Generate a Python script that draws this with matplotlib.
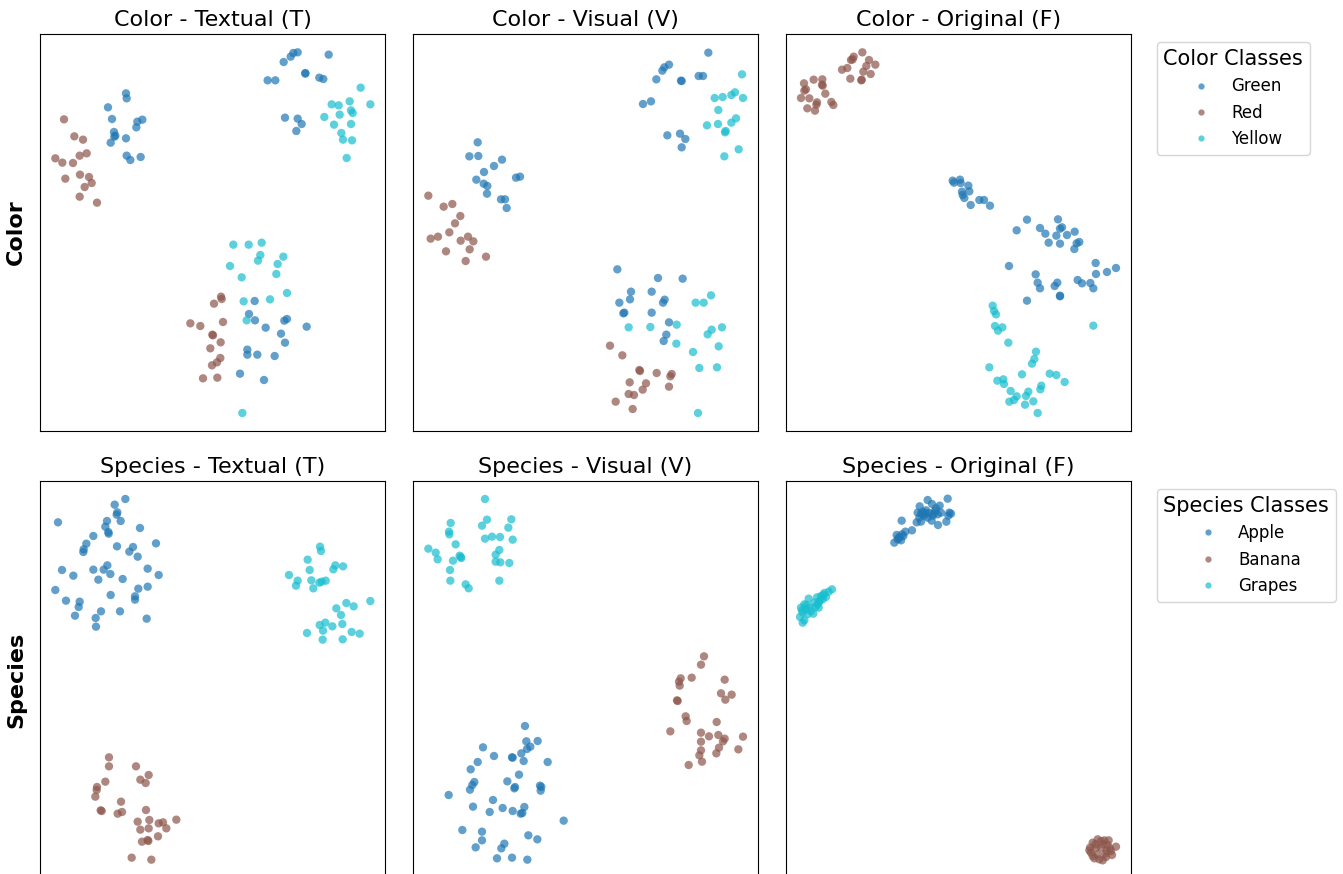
import matplotlib
matplotlib.use("Agg")
import matplotlib.pyplot as plt
from matplotlib.lines import Line2D

# ---- data: 2-D embedding coordinates ----
color_labels = ["Green", "Red", "Yellow"]
species_labels = ["Apple", "Banana", "Grapes"]
titles_color = ["Color - Textual (T)", "Color - Visual (V)", "Color - Original (F)"]
titles_species = ["Species - Textual (T)", "Species - Visual (V)", "Species - Original (F)"]

color_T_green = [(760,57),(752,68),(773,55),(731,84),(866,62),(796,117),(796,119),(838,131),(850,135),(683,139),(706,139),(735,251),(773,254),(785,270),(769,291),
                 (258,178),(260,193),(204,220),(216,255),(292,263),(307,257),(289,280),(222,294),(226,305),(223,308),(212,326),(258,313),(260,365),(271,378),(302,369),
                 (644,801),(627,840),(645,859),(677,881),(733,860),(741,855),(800,878),(723,899),(735,926),(622,947),(622,962),(652,962),(704,966),(600,1019),(672,1038)]
color_T_red = [(72,256),(103,307),(129,317),(46,373),(67,386),(99,387),(119,365),(140,358),(76,434),(120,422),(147,429),(155,447),(134,459),(119,488),(171,506),
               (543,788),(545,795),(522,809),(451,868),(481,876),(549,864),(517,902),(519,904),(542,925),(511,943),(541,972),(531,985),(516,994),(489,1033),(532,1031)]
color_T_yellow = [(962,161),(991,211),(875,211),(896,214),(929,202),(933,229),(938,237),(899,242),(853,249),(882,272),(933,270),(904,297),(909,317),(936,319),(920,372),
                  (580,632),(626,632),(665,626),(661,663),(654,680),(730,668),(713,690),(570,696),(605,730),(709,720),(741,777),(690,796),(611,802),(620,859),(607,1137)]

color_V_green = [(886,56),(768,92),(754,100),(748,110),(730,136),(804,140),(806,141),(857,126),(870,126),(690,210),(714,202),(763,304),(801,299),(817,315),(806,340),
                 (194,325),(169,367),(196,366),(267,377),(243,396),(213,414),(190,437),(212,449),(223,456),(222,479),(309,431),(321,428),(264,496),(276,496),(281,522),
                 (613,706),(735,732),(809,734),(654,773),(716,773),(651,796),(619,806),(755,797),(750,806),(631,838),(634,836),(716,836),(768,865),(760,902),(752,921)]
color_V_red = [(46,485),(92,518),(118,510),(142,546),(126,568),(109,595),(53,614),(75,608),(143,620),(165,608),(181,622),(170,646),(99,652),(158,681),(219,668),
               (591,935),(628,964),(679,1008),(681,1011),(731,1017),(776,1020),(772,1027),(650,1045),(699,1048),(689,1067),(768,1058),(647,1080),(663,1083),(608,1103),(659,1125)]
color_V_yellow = [(987,121),(905,192),(929,189),(955,183),(966,175),(990,192),(916,228),(969,253),(955,266),(915,270),(882,274),(938,291),(936,295),(977,346),(934,367),
                  (894,784),(848,806),(872,806),(647,880),(712,879),(791,872),(896,887),(884,901),(927,880),(790,929),(917,937),(840,954),(859,1002),(912,1000),(855,1137)]

color_F_green = [(500,440),(504,446),(522,437),(524,447),(547,455),(550,472),(528,473),(530,483),(535,492),(580,498),(594,498),(612,515),(554,513),
                 (723,557),(692,589),(762,582),(778,599),(816,556),(828,580),(822,584),(811,605),(843,603),(866,593),(788,626),(822,629),(872,628),(880,624),(865,645),
                 (669,696),(929,687),(930,720),(963,714),(990,702),(749,721),(755,746),(762,763),(806,756),(814,746),(875,738),(888,748),(913,747),(922,763),(822,787),(822,785),(723,800)]
color_F_red = [(229,55),(203,68),(195,78),(200,76),(249,78),(268,92),(241,96),(184,102),(168,107),(254,120),(232,113),(193,134),(227,137),(226,139),
               (83,137),(109,136),(54,148),(110,155),(60,166),(118,179),(45,192),(70,193),(93,205),(91,212),(136,204),(142,213),(64,223),(87,230),(108,152),(55,170)]
color_F_yellow = [(620,815),(624,831),(630,841),(627,876),(649,880),(636,890),(667,926),(750,953),(745,975),(738,989),(610,1000),(708,1021),(791,1019),(811,1023),(836,1044),
                  (634,1040),(652,1036),(654,1050),(674,1071),(766,1055),(763,1066),(727,1073),(720,1086),(692,1087),(684,1098),(670,1103),(717,1112),(742,1102),(755,1137),(922,875)]

species_T_apple = [(256,54),(224,71),(232,94),(230,101),(54,124),(201,120),(242,120),(196,137),(205,153),(206,158),(160,165),(300,141),(139,188),(131,205),(130,213),
                   (348,187),(231,196),(279,198),(268,212),(293,227),(202,253),(191,266),(211,279),(160,266),(66,267),(100,284),(175,296),(248,294),(323,263),(356,282),
                   (46,327),(295,323),(323,317),(212,342),(285,346),(285,356),(78,359),(119,362),(116,378),(183,391),(240,391),(105,404),(167,411),(168,437),(320,413)]
species_T_banana = [(207,829),(207,856),(288,856),(326,882),(301,896),(317,906),(196,902),(171,918),(170,927),(166,947),(243,962),(182,988),(185,990),(233,998),(246,993),
                    (318,987),(293,1022),(328,1017),(356,1027),(369,1024),(409,1016),(379,1042),(301,1046),(326,1042),(354,1066),(306,1082),(323,1077),(325,1080),(275,1130),(334,1136)]
species_T_grapes = [(840,197),(843,210),(803,236),(809,267),(886,253),(880,265),(909,256),(747,282),(773,299),(768,314),(814,298),(820,322),(838,305),(845,302),(857,299),
                    (991,360),(919,366),(941,376),(889,382),(903,402),(856,425),(839,432),(849,449),(877,436),(907,429),(801,456),(848,476),(908,475),(935,453),(959,458)]

species_V_apple = [(336,735),(340,781),(374,780),(352,797),(342,804),(325,817),(210,799),(243,825),(297,829),(299,830),(332,840),(404,843),(194,843),(173,865),(318,881),
                   (283,901),(184,903),(178,912),(171,926),(306,918),(304,922),(381,914),(385,918),(383,929),(107,942),(240,957),(180,977),(269,981),(230,993),(299,990),
                   (334,978),(323,998),(328,996),(452,1019),(148,1047),(207,1052),(207,1078),(346,1063),(373,1075),(274,1088),(265,1102),(188,1099),(252,1132),(297,1130),(343,1136)]
species_V_banana = [(873,526),(864,551),(803,592),(798,602),(800,614),(836,590),(935,596),(924,637),(956,641),(937,656),(792,658),(794,660),(818,706),(821,720),(911,723),
                    (772,751),(864,755),(888,766),(916,762),(935,773),(930,781),(990,767),(864,782),(918,800),(976,805),(864,808),(859,823),(910,817),(867,842),(827,852)]
species_V_grapes = [(216,54),(113,126),(222,116),(295,115),(207,134),(286,140),(108,152),(109,160),(128,190),(216,173),(237,167),(261,168),(299,176),(46,203),(68,215),
                    (74,235),(120,239),(140,224),(145,231),(259,207),(248,221),(248,242),(262,244),(289,246),(111,267),(112,299),(158,310),(167,322),(259,299),(143,228)]

species_F_apple = [(485,53),(425,57),(438,69),(461,74),(401,76),(395,95),(410,92),(420,88),(430,96),(447,90),(455,100),(440,104),(415,104),(400,110),(490,95),
                   (495,98),(487,104),(347,119),(392,124),(405,122),(437,119),(456,132),(481,122),(378,148),(358,152),(348,160),(332,162),(340,168),(335,175),(325,185),
                   (345,178),(410,100),(450,82),(465,95),(425,110),(405,98),(418,96),(443,98),(338,172),(352,165)]
species_F_banana = [(935,1075),(955,1078),(920,1085),(965,1092),(912,1100),(990,1097),(975,1110),(915,1115),(935,1120),(960,1128),(925,1132),(950,1138),(978,1122),
                    (945,1100),(930,1100),(962,1110),(920,1125),(945,1080),(968,1078),(910,1108),(940,1135),(958,1118),(928,1090),(952,1090),(972,1102)]
species_F_grapes = [(138,325),(128,332),(115,336),(105,345),(93,349),(68,353),(120,348),(110,355),(100,362),(95,370),(55,370),(45,380),(60,385),(75,390),(98,380),
                    (50,395),(65,400),(82,398),(42,408),(55,418),(50,425),(100,360),(88,378),(62,372),(112,342),(48,388),(85,365),(70,380)]

class_colors = ["#1f77b4", "#8c564b", "#17becf"]

rows = [
    ("Color", color_labels, titles_color,
     [[color_T_green, color_T_red, color_T_yellow],
      [color_V_green, color_V_red, color_V_yellow],
      [color_F_green, color_F_red, color_F_yellow]]),
    ("Species", species_labels, titles_species,
     [[species_T_apple, species_T_banana, species_T_grapes],
      [species_V_apple, species_V_banana, species_V_grapes],
      [species_F_apple, species_F_banana, species_F_grapes]]),
]

W, H = 1343, 874
fig = plt.figure(figsize=(W / 100, H / 100), dpi=100)
lefts = [40, 413, 786]
tops = [34, 481]
aw, ah = 345, 397

for r, (rowname, labels, titles, panels) in enumerate(rows):
    for c in range(3):
        ax = fig.add_axes([lefts[c] / W, (H - tops[r] - ah) / H, aw / W, ah / H])
        for k, pts in enumerate(panels[c]):
            xs = [p[0] for p in pts]
            ys = [p[1] for p in pts]
            ax.scatter(xs, ys, s=36, color=class_colors[k], alpha=0.7,
                       edgecolors="none", label=labels[k])
        ax.set_xlim(0, 1035)
        ax.set_ylim(1191, 0)
        ax.set_xticks([])
        ax.set_yticks([])
        ax.set_title(titles[c], fontsize=16)
        if c == 0:
            ax.set_ylabel(rowname, fontsize=16, fontweight="bold", labelpad=10)
        if c == 2:
            handles = [Line2D([0], [0], marker="o", linestyle="none", markersize=4.5,
                              markerfacecolor=class_colors[k], markeredgecolor="none",
                              alpha=0.7) for k in range(3)]
            ax.legend(handles, labels, title=f"{rowname} Classes", loc="upper left",
                      bbox_to_anchor=(1.05, 1), fontsize=12, title_fontsize=15)

fig.savefig("out.png", dpi=100)
